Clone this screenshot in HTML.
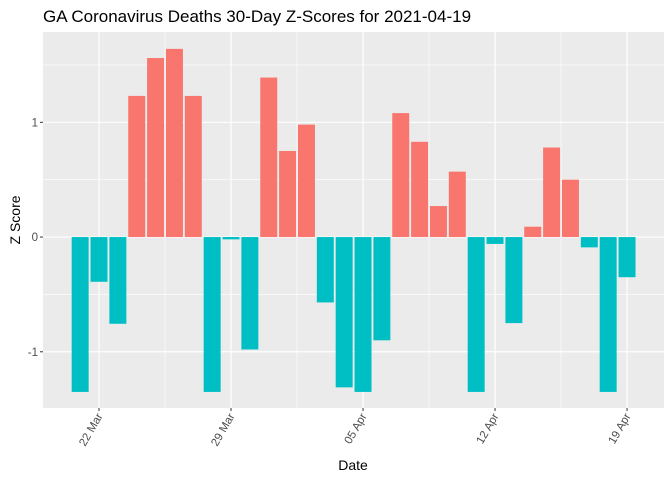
<!DOCTYPE html>
<html><head><meta charset="utf-8"><style>
body{margin:0;background:#fff;font-family:"Liberation Sans",Arial,sans-serif}
svg text{font-family:"Liberation Sans",Arial,sans-serif}
</style></head><body>
<svg width="672" height="480" viewBox="0 0 672 480">
<g id="root"></g>
<text x="43" y="22" font-size="17" fill="#000">GA Coronavirus Deaths 30-Day Z-Scores for 2021-04-19</text>
<text x="353" y="470" font-size="14" text-anchor="middle" fill="#000">Date</text>
<text x="0" y="0" font-size="14" text-anchor="middle" fill="#000" transform="translate(20,220) rotate(-90)">Z Score</text>
</svg>
<script>
const dayLabels=["22 Mar","29 Mar","05 Apr","12 Apr","19 Apr"];
const dayIndex=[-1,0,1,2,3,4,5,6,7,8,9,10,11,12,13,14,15,16,17,18,19,20,21,22,23,24,25,26,27,28];
const zScores=[-1.35,-0.39,-0.756,1.23,1.56,1.64,1.23,-1.35,-0.02,-0.98,1.39,0.75,0.98,-0.57,-1.31,-1.35,-0.90,1.08,0.83,0.27,0.57,-1.35,-0.06,-0.75,0.09,0.78,0.50,-0.09,-1.35,-0.35];
const yTicks=[-1,0,1];
</script>
<script>
(function(){
const NS="http://www.w3.org/2000/svg";
const root=document.getElementById('root');
const L=43,R=664,T=32,B=408;
const xmin=-2.97,xmax=29.96,ymin=-1.49,ymax=1.787;
const x=d=>L+(d-xmin)/(xmax-xmin)*(R-L);
const y=v=>T+(ymax-v)/(ymax-ymin)*(B-T);
function mk(tag,attrs,parent){const e=document.createElementNS(NS,tag);for(const k in attrs)e.setAttribute(k,attrs[k]);(parent||root).appendChild(e);return e;}
const bg=mk('rect',{x:L,y:T,width:R-L,height:B-T,fill:'#ebebeb'});


[-1.5,-0.5,0.5,1.5].forEach(v=>{if(v>ymin&&v<ymax){const l=mk('line',{x1:L,x2:R,y1:y(v),y2:y(v),stroke:'#fff','stroke-width':0.6});

}});
for(let d=-3.5;d<=31;d+=7){if(d>xmin&&d<xmax){const l=mk('line',{x1:x(d),x2:x(d),y1:T,y2:B,stroke:'#fff','stroke-width':0.6});

}}
yTicks.forEach(v=>{const l=mk('line',{x1:L,x2:R,y1:y(v),y2:y(v),stroke:'#fff','stroke-width':1.2});


const t=mk('line',{x1:L-3,x2:L,y1:y(v),y2:y(v),stroke:'#333','stroke-width':1});


const tx=mk('text',{x:L-5,y:y(v)+4,'text-anchor':'end','font-size':11.5,fill:'#4d4d4d'});tx.textContent=v;

});
dayLabels.forEach((lab,i)=>{const d=i*7;const l=mk('line',{x1:x(d),x2:x(d),y1:T,y2:B,stroke:'#fff','stroke-width':1.2});


const t=mk('line',{x1:x(d),x2:x(d),y1:B,y2:B+3,stroke:'#333','stroke-width':1});


const tx=mk('text',{x:0,y:0,'text-anchor':'end','font-size':11.5,fill:'#4d4d4d',transform:`translate(${x(d)+4},${B+8}) rotate(-60)`});tx.textContent=lab;

});
const bw=(x(0.45)-x(-0.45));
zScores.forEach((v,i)=>{const d=dayIndex[i];const y0=y(0),yv=y(v);
const r=mk('rect',{x:x(d)-bw/2,y:Math.min(y0,yv),width:bw,height:Math.abs(yv-y0),fill:v>0?'#f8766d':'#00bfc4'});

});
})();
</script>
</body></html>
